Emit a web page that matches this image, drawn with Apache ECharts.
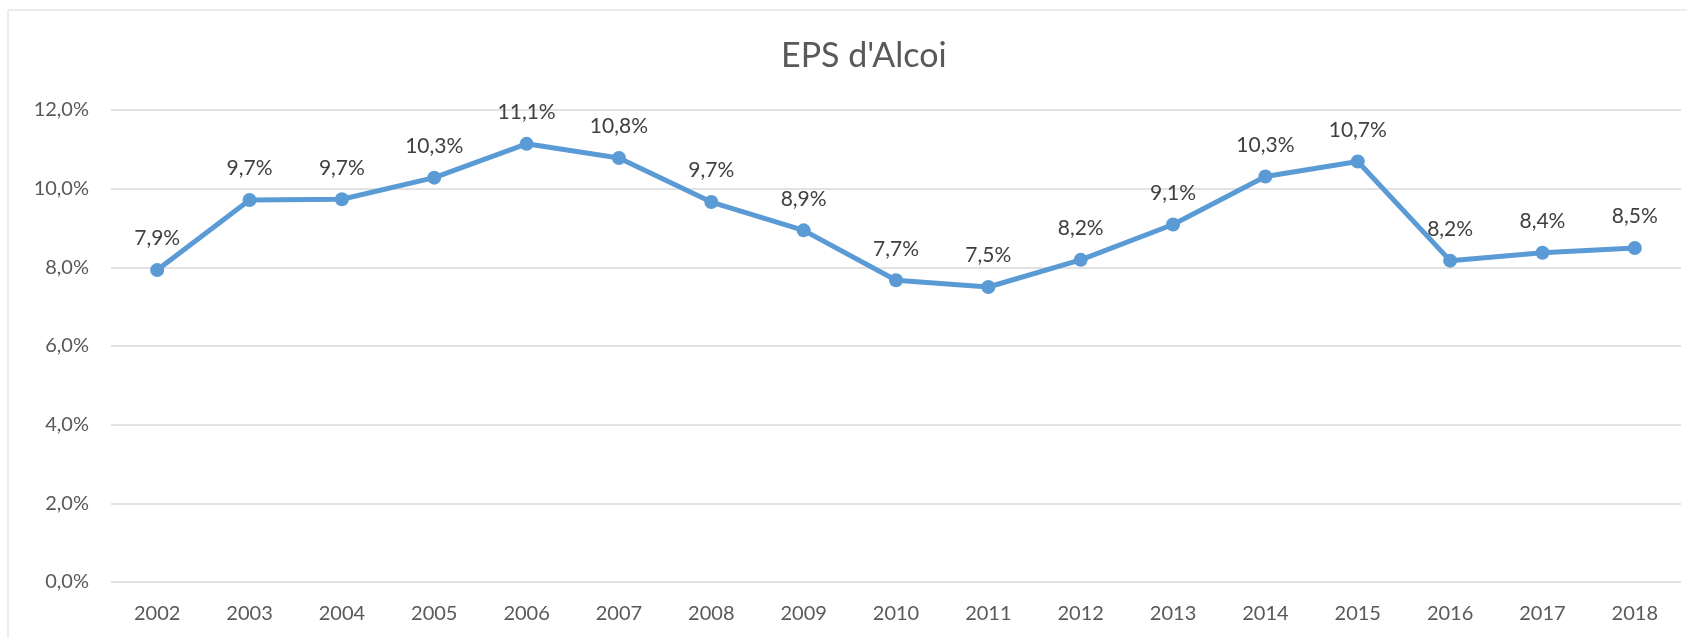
<!DOCTYPE html>
<html>
<head>
<meta charset="utf-8">
<script src="https://cdn.jsdelivr.net/npm/echarts@6/dist/echarts.min.js"></script>
<style>
  html, body { margin: 0; padding: 0; background: #fff; }
  #chart { width: 1687px; height: 638px; }
</style>
</head>
<body>
<div id="chart"></div>
<script>
const years = ['2002', '2003', '2004', '2005', '2006', '2007', '2008', '2009', '2010',
  '2011', '2012', '2013', '2014', '2015', '2016', '2017', '2018'];
const eps = [7.93, 9.71, 9.73, 10.28, 11.14, 10.78, 9.66, 8.94, 7.67, 7.50, 8.19, 9.09,
  10.31, 10.69, 8.17, 8.37, 8.49];
const titleText = "EPS d'Alcoi";

const font = 'Lato, "Open Sans", sans-serif';
const pct = v => v.toFixed(1).replace('.', ',') + '%';

let chart = echarts.init(document.getElementById('chart'));
chart.setOption({
  animation: false,
  textStyle: { fontFamily: font },
  graphic: [{
    type: 'rect',
    shape: { x: 8, y: 10, width: 1700, height: 660 },
    style: { fill: 'none', stroke: '#d9d9d9', lineWidth: 1 },
    silent: true
  }],
  title: {
    text: titleText,
    left: 776,
    top: 34,
    textStyle: { fontFamily: font, fontSize: 34, fontWeight: 'normal', color: '#595959' }
  },
  grid: { left: 111, right: 6, top: 110, bottom: 56 },
  xAxis: {
    type: 'category',
    data: years,
    boundaryGap: true,
    axisLine: { show: false },
    axisTick: { show: false },
    axisLabel: { color: '#595959', fontSize: 20, margin: 22, fontFamily: font }
  },
  yAxis: {
    type: 'value',
    min: 0,
    max: 12,
    interval: 2,
    axisLine: { show: false },
    axisTick: { show: false },
    splitLine: { lineStyle: { color: '#d9d9d9', width: 1.5 } },
    axisLabel: {
      color: '#595959', fontSize: 20, margin: 22, fontFamily: font,
      formatter: v => pct(v)
    }
  },
  series: [{
    name: 'EPS',
    type: 'line',
    data: eps,
    symbol: 'circle',
    symbolSize: 14,
    lineStyle: { color: '#5b9bd5', width: 5 },
    itemStyle: { color: '#5b9bd5' },
    label: {
      show: true,
      position: 'top',
      distance: 14,
      color: '#404040',
      fontSize: 21,
      fontFamily: font,
      formatter: p => pct(p.value)
    }
  }]
});
</script>
</body>
</html>
